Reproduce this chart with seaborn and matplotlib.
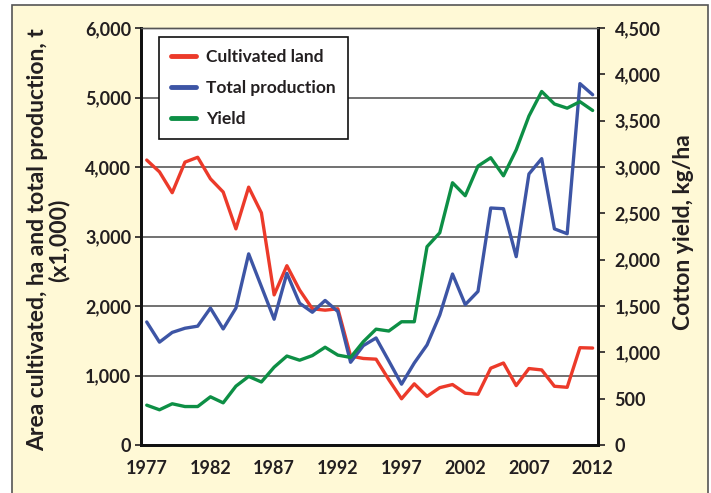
import numpy as np
import pandas as pd
import seaborn as sns
import matplotlib.pyplot as plt
from matplotlib.patches import Rectangle
from matplotlib.ticker import FuncFormatter

# Data
years = list(range(1977, 2013))
cultivated = [4100, 3930, 3630, 4070, 4140, 3830, 3640, 3110, 3710, 3340,
              2160, 2580, 2230, 1960, 1940, 1960, 1280, 1245, 1235, 940,
              665, 880, 700, 825, 870, 745, 730, 1105, 1180, 855,
              1100, 1080, 845, 830, 1400, 1395]
production = [1770, 1480, 1620, 1680, 1710, 1970, 1670, 1970, 2750, 2280,
              1810, 2470, 2040, 1910, 2080, 1920, 1190, 1430, 1540, 1210,
              875, 1180, 1440, 1870, 2460, 2020, 2210, 3410, 3400, 2710,
              3900, 4120, 3110, 3040, 5200, 5040]
cotton_yield = [430, 380, 445, 415, 415, 520, 455, 635, 740, 680,
                840, 960, 915, 965, 1055, 970, 945, 1115, 1250, 1230,
                1330, 1330, 2140, 2290, 2830, 2690, 3010, 3100, 2905, 3185,
                3550, 3815, 3680, 3635, 3705, 3610]
year_labels = [1977, 1982, 1987, 1992, 1997, 2002, 2007, 2012]

df = pd.DataFrame({'Year': years, 'Cultivated land': cultivated,
                   'Total production': production, 'Yield': cotton_yield})

sns.set_style('white')
plt.rcParams['font.family'] = ['Lato', 'DejaVu Sans']
plt.rcParams['font.weight'] = 'bold'

txt = '#231f20'
fig = plt.figure(figsize=(7.11, 4.93), dpi=100, facecolor='white')
fig.patches.append(Rectangle((12 / 711, -0.02), 696 / 711, 1.02 - 5 / 493,
                             transform=fig.transFigure, facecolor='#fff9d6',
                             edgecolor='#555555', linewidth=1.2, zorder=-10))

ax1 = fig.add_axes([141 / 711, 48 / 493, 457 / 711, 417 / 493])
ax1.set_facecolor('white')
ax2 = ax1.twinx()

sns.lineplot(data=df, x='Year', y='Cultivated land', ax=ax1, color='#ec3a2a',
             linewidth=2.4, label='Cultivated land', legend=False)
sns.lineplot(data=df, x='Year', y='Total production', ax=ax1, color='#3d55a5',
             linewidth=2.4, label='Total production', legend=False)
sns.lineplot(data=df, x='Year', y='Yield', ax=ax2, color='#0d8f45',
             linewidth=2.4, label='Yield', legend=False)

ax1.set_xlim(1976.55, 2012.42)
ax1.set_ylim(0, 6000)
ax2.set_ylim(0, 4500)
ax1.set_yticks(range(0, 6001, 1000))
ax2.set_yticks(range(0, 4501, 500))
ax1.set_xticks(years)
ax1.set_xticklabels([str(y) if y in year_labels else '' for y in years])

fmt = FuncFormatter(lambda v, p: f'{int(v):,}')
ax1.yaxis.set_major_formatter(fmt)
ax2.yaxis.set_major_formatter(fmt)

ax1.yaxis.grid(True, color='#4a4a4a', linewidth=1.1)
ax1.set_axisbelow(True)
ax1.set_xlabel('')
ax1.set_ylabel('')
ax2.set_ylabel('')

for a in (ax1, ax2):
    a.tick_params(axis='both', direction='out', length=4, width=1.2,
                  colors=txt, labelsize=13, pad=3)
    for s in a.spines.values():
        s.set_color('#111111')
        s.set_linewidth(2)
    a.spines['top'].set_linewidth(1)
    a.spines['top'].set_color('#555555')
ax1.tick_params(axis='x', pad=7)
ax1.tick_params(axis='y', left=True)
ax2.tick_params(axis='y', right=True, length=5, pad=7)
for lab in ax1.get_xticklabels() + ax1.get_yticklabels() + ax2.get_yticklabels():
    lab.set_fontweight('bold')

fig.text(48.5 / 711, 1 - 240 / 493,
         'Area cultivated, ha and total production, t\n(x1,000)',
         rotation=90, ha='center', va='center', multialignment='center',
         fontsize=16.5, fontweight='bold', color=txt, linespacing=0.95)
fig.text(684 / 711, 1 - 232 / 493, 'Cotton yield, kg/ha', rotation=90,
         ha='center', va='center', fontsize=16.5, fontweight='bold', color=txt)

h1, l1 = ax1.get_legend_handles_labels()
h2, l2 = ax2.get_legend_handles_labels()
leg = ax2.legend(h1 + h2, l1 + l2, loc='upper left',
                 bbox_to_anchor=(18 / 457, 1 - 9 / 417), fancybox=False,
                 edgecolor='#111111', framealpha=1, fontsize=12.5,
                 labelspacing=0.85, handlelength=1.45, handletextpad=0.55,
                 borderpad=0.7, borderaxespad=0)
leg.get_frame().set_linewidth(1.2)
for t in leg.get_texts():
    t.set_color(txt)
    t.set_fontweight('bold')
for line in leg.get_lines():
    line.set_linewidth(3.5)

fig.savefig('out.png', dpi=100, facecolor=fig.get_facecolor())
